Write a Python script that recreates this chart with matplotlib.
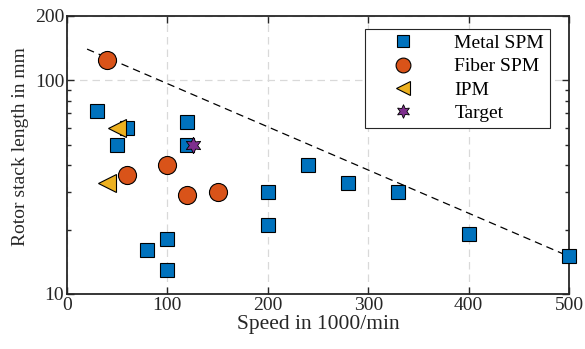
import numpy as np
import matplotlib.pyplot as plt
from matplotlib.ticker import FixedLocator, NullFormatter

plt.rcParams['font.family'] = ['Liberation Serif', 'DejaVu Serif']

# ===== DATA =====
metal_speed = [30, 60, 50, 120, 120, 80, 100, 100, 200, 200, 240, 280, 330, 400, 500]
metal_length = [72, 60, 50, 64, 50, 16, 18, 13, 30, 21, 40, 33, 30, 19, 15]

fiber_speed = [40, 60, 100, 120, 150]
fiber_length = [125, 36, 40, 29, 30]

ipm_speed = [50, 40]
ipm_length = [60, 33]

target_speed = [125]
target_length = [50]

trend_speed = [20, 500]
trend_length = [140, 15]

fig = plt.figure(figsize=(5.85, 3.49), dpi=100)
ax = fig.add_axes([67 / 585, 1 - 294 / 349, 502 / 585, 278 / 349])

ax.plot(trend_speed, trend_length, '--', color='k', lw=0.9, dashes=(6, 4), zorder=2)

ax.plot(metal_speed, metal_length, 's', ms=10, mfc='#0072BD', mec='k', mew=0.8,
        ls='none', label='Metal SPM', zorder=3, clip_on=False)
ax.plot(fiber_speed, fiber_length, 'o', ms=13, mfc='#D95319', mec='k', mew=0.8,
        ls='none', label='Fiber SPM', zorder=3, clip_on=False)
ax.plot(ipm_speed, ipm_length, '<', ms=13, mfc='#EDB120', mec='k', mew=0.8,
        ls='none', label='IPM', zorder=3, clip_on=False)
ax.plot(target_speed, target_length, marker=(6, 1, 0), ms=12, mfc='#7E2F8E', mec='k',
        mew=0.6, ls='none', label='Target', zorder=4, clip_on=False)

ax.set_yscale('log')
ax.set_xlim(0, 500)
ax.set_ylim(10, 200)
ax.set_xticks([0, 100, 200, 300, 400, 500])
ax.yaxis.set_major_locator(FixedLocator([10, 100, 200]))
ax.set_yticklabels(['10', '100', '200'])
ax.yaxis.set_minor_locator(FixedLocator([20, 30, 40, 50, 60, 70, 80, 90]))
ax.yaxis.set_minor_formatter(NullFormatter())

ax.grid(True, which='major', ls=(0, (6, 4)), color='#d9d9d9', lw=0.9)
ax.set_axisbelow(True)

ax.tick_params(which='both', direction='in', top=True, right=True, labelsize=14,
               width=1.0, color='#262626', labelcolor='#262626', pad=2)
ax.tick_params(which='major', length=5)
ax.tick_params(which='minor', length=3)
for s in ax.spines.values():
    s.set_linewidth(1.3)
    s.set_color('#262626')

ax.set_xlabel('Speed in 1000/min', fontsize=15.5, color='#262626', labelpad=1)
ax.set_ylabel('Rotor stack length in mm', fontsize=14, color='#262626')
ax.yaxis.set_label_coords(-0.075, 0.53)

leg = ax.legend(loc='upper right', bbox_to_anchor=(0.962, 0.955), fontsize=14,
                fancybox=False, framealpha=1, edgecolor='#262626', markerscale=0.82,
                handlelength=3.3, handletextpad=1.0, borderpad=0.3, labelspacing=0.3,
                borderaxespad=0)
leg.get_frame().set_linewidth(0.8)

fig.savefig('out.png', dpi=100)
